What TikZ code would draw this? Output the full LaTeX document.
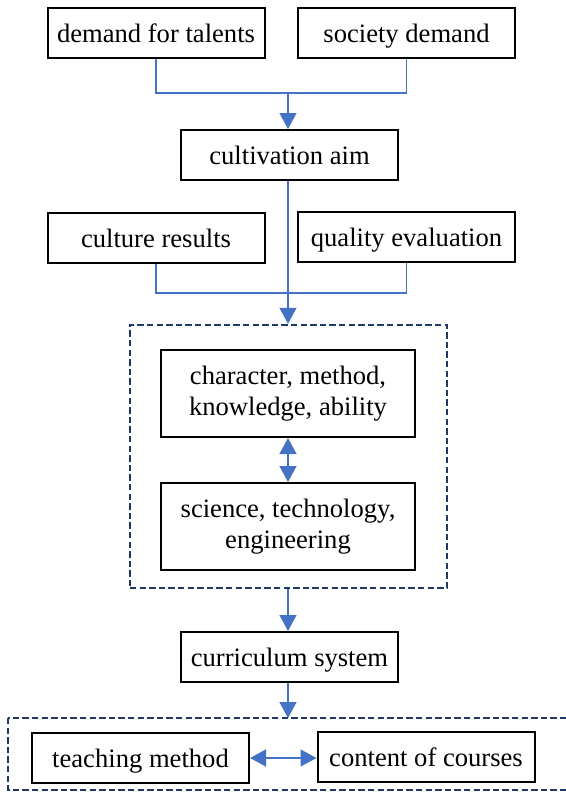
\documentclass[tikz,border=0pt]{standalone}
\usepackage{fontspec}
\setmainfont{Liberation Serif}
\usepackage{tikz}
\usetikzlibrary{positioning,arrows.meta,calc}
\definecolor{lineblue}{RGB}{68,114,196}
\definecolor{navydash}{RGB}{31,56,100}
\tikzset{
  wbox/.style  ={draw=black, line width=1pt, fill=white, align=center,
                 inner sep=2pt, minimum width=127pt, minimum height=43.5pt},
  box/.style   ={wbox, minimum width=108.5pt, minimum height=25pt,
                 text height=11.5pt, text depth=2pt},
  grpbox/.style={draw=navydash, line width=1.2pt, dash pattern=on 3.2pt off 1.6pt},
  ln/.style    ={draw=lineblue, line width=0.7pt},
  ar/.style    ={-{Triangle[length=8pt,width=8.5pt]}, draw=lineblue, fill=lineblue, line width=0.7pt},
  dar/.style   ={{Triangle[length=8pt,width=8.5pt]}-{Triangle[length=8pt,width=8.5pt]}, draw=lineblue, fill=lineblue, line width=0.7pt},
}

\begin{document}
\begin{tikzpicture}[x=0.5pt,y=-0.5pt,font=\rmfamily\fontsize{13.3pt}{15.5pt}\selectfont]
\useasboundingbox (0,0) rectangle (566,793);
% dashed groups
\node[grpbox,minimum width=158.5pt,minimum height=131.5pt] (grp) at (288.5,456.5) {};
\draw[grpbox] (8,718) rectangle (580,790);
% inputs
\node[box] (tal) at (156,32.5) {demand for talents};
\node[box] (soc) at (406.5,32.5) {society demand};
\node[box] (aim) at (289.5,155) {cultivation aim};
\node[box] (cul) at (156,237.5) {culture results};
\node[box] (qua) at (406.5,236.5) {quality evaluation};
% inside group
\node[wbox] (cha) at (288,393.5) {character, method,\\ knowledge, ability};
\node[wbox] (sci) at (288,526.5) {science, technology,\\ engineering};
\node[box] (cur) at (289.5,657) {curriculum system};
\node[box] (tea) at (140.5,758) {teaching method};
\node[box] (con) at (426,757) {content of courses};
% joints
\coordinate (j1) at (288,93);
\coordinate (j2) at (288,293);
\draw[ln] (tal.south) |- (j1) -| (soc.south);
\draw[ar] (j1) -- (j1 |- aim.north);
\draw[ln] (cul.south) |- (j2) -| (qua.south);
\draw[ar] (j1 |- aim.south) -- (j1 |- grp.north);
\draw[dar] (cha.south) -- (sci.north);
\draw[ar] (j1 |- grp.south) -- (j1 |- cur.north);
\draw[ar] (j1 |- cur.south) -- (288,718);
\draw[dar] (tea.east) -- (tea.east -| con.west);
\end{tikzpicture}
\end{document}
